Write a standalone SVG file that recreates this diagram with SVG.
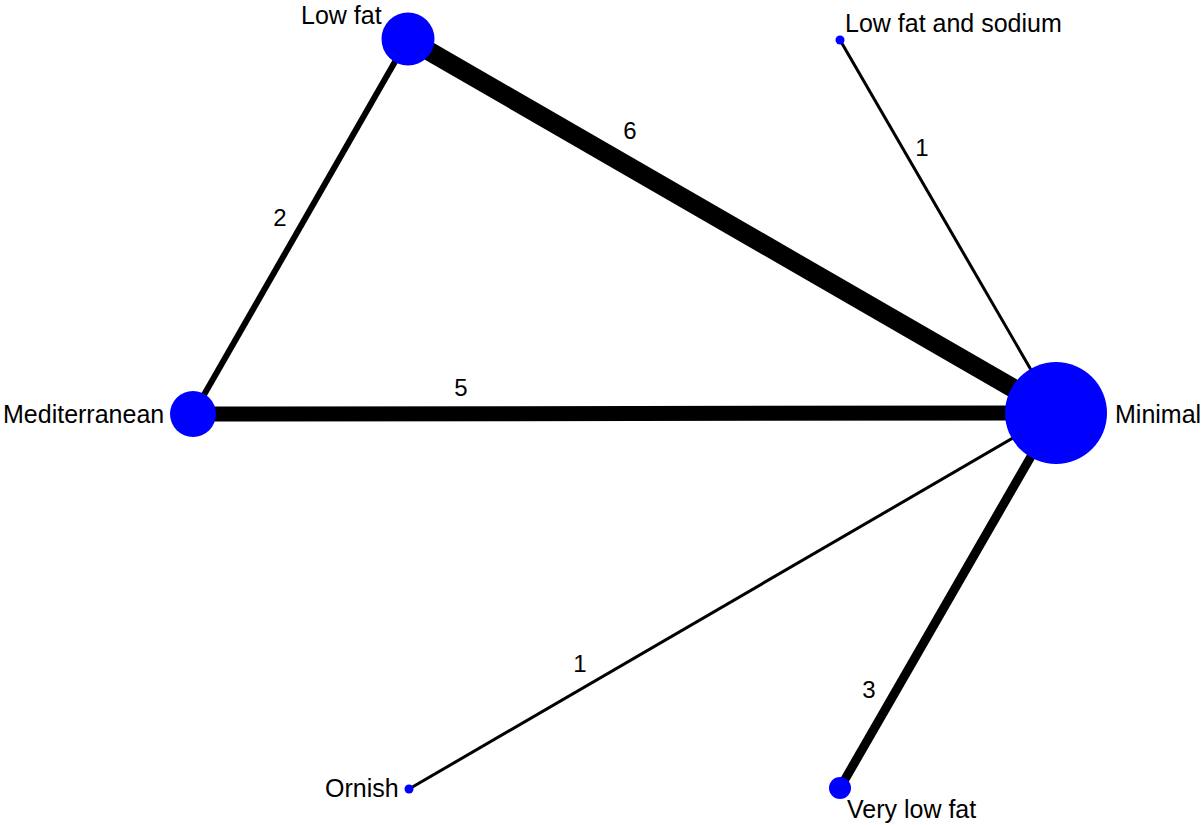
<svg xmlns="http://www.w3.org/2000/svg" width="1203" height="825" viewBox="0 0 1203 825">
<style>
text{font-family:"Liberation Sans",Arial,sans-serif;font-size:24px;fill:#000}
.nl{font-size:25px}
.e{stroke:#000;stroke-linecap:butt}
.n{fill:#0000ff}
.el{text-anchor:middle}
</style>
<rect width="1203" height="825" fill="#fff"/>
<g id="connectors">
<line class="e" x1="408" y1="39" x2="1056" y2="413" stroke-width="19"/>
<line class="e" x1="193" y1="414" x2="1056" y2="413" stroke-width="15"/>
<line class="e" x1="408" y1="39" x2="193" y2="414" stroke-width="6"/>
<line class="e" x1="840" y1="40" x2="1056" y2="413" stroke-width="3"/>
<line class="e" x1="409" y1="789" x2="1056" y2="413" stroke-width="3"/>
<line class="e" x1="840" y1="788" x2="1056" y2="413" stroke-width="9"/>
<text class="el" x="630" y="139">6</text>
<text class="el" x="461" y="396">5</text>
<text class="el" x="280" y="226">2</text>
<text class="el" x="922" y="156">1</text>
<text class="el" x="580" y="672">1</text>
<text class="el" x="869" y="698">3</text>
</g>
<g id="node-lowfat"><circle class="n" cx="408" cy="39" r="26.5"/><text class="nl" x="301" y="24">Low fat</text></g>
<g id="node-lowfatsodium"><circle class="n" cx="840" cy="40" r="4.5"/><text class="nl" x="845" y="32">Low fat and sodium</text></g>
<g id="node-mediterranean"><circle class="n" cx="193" cy="414" r="23"/><text class="nl" x="3" y="423">Mediterranean</text></g>
<g id="node-minimal"><circle class="n" cx="1056" cy="413" r="51"/><text class="nl" x="1115" y="423">Minimal</text></g>
<g id="node-ornish"><circle class="n" cx="409" cy="789" r="4.5"/><text class="nl" x="325" y="797">Ornish</text></g>
<g id="node-verylowfat"><circle class="n" cx="840" cy="788" r="11"/><text class="nl" x="847" y="818">Very low fat</text></g>
</svg>
